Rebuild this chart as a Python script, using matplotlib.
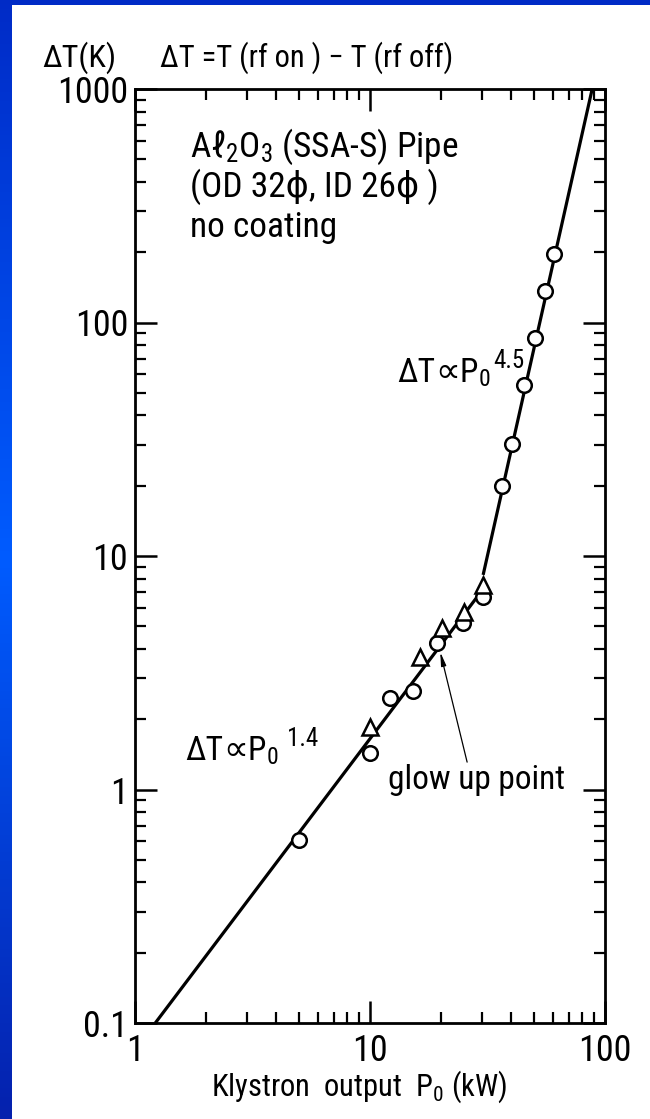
import numpy as np
import matplotlib
matplotlib.use("Agg")
import matplotlib.pyplot as plt
from matplotlib import font_manager
from matplotlib.patches import Rectangle
from matplotlib.ticker import LogLocator, NullFormatter, FixedLocator, FixedFormatter

# --- data -------------------------------------------------------------
# circles: measured temperature rise vs klystron output
circle_p = [5.0, 10.0, 12.2, 15.2, 19.3, 24.9, 30.3, 36.5, 40.2, 45.2, 50.4, 55.6, 60.7]
circle_t = [0.61, 1.43, 2.46, 2.64, 4.24, 5.16, 6.67, 19.9, 30.2, 54.0, 86.0, 136.0, 197.0]
# triangles: second run
tri_p = [10.0, 16.3, 20.3, 25.1, 30.3]
tri_t = [1.85, 3.69, 4.92, 5.75, 7.51]
# power-law guide lines
fit_low_p = [1.22, 29.4]
fit_low_t = [0.1, 6.94]
fit_high_p = [30.3, 88.2]
fit_high_t = [8.3, 1000.0]

y_ticks = [0.1, 1, 10, 100, 1000]
y_ticklabels = ["0.1", "1", "10", "100", "1000"]
x_ticks = [1, 10, 100]
x_ticklabels = ["1", "10", "100"]

# --- fonts: a narrow grotesque for everything -------------------------
names = {f.name for f in font_manager.fontManager.ttflist}
base = "Liberation Sans"
for cand in ["Nimbus Sans Narrow", "Liberation Sans Narrow", "Arial Narrow",
             "Roboto Condensed", "Archivo Narrow", "Barlow Semi Condensed"]:
    if cand in names:
        base = cand
        break
FAM = [base, "DejaVu Sans"]
plt.rcParams["font.family"] = FAM
plt.rcParams["mathtext.fontset"] = "custom"
plt.rcParams["mathtext.rm"] = base
plt.rcParams["mathtext.it"] = base
plt.rcParams["mathtext.bf"] = base

W, H = 650, 1119
fig = plt.figure(figsize=(W / 100, H / 100), dpi=100)

# blue frame with white sheet
bg = fig.add_axes([0, 0, 1, 1], zorder=-10)
bg.set_xlim(0, 1)
bg.set_ylim(0, 1)
bg.axis("off")
top = np.array([0.0, 0.17, 0.78])
mid = np.array([0.0, 0.36, 1.0])
bot = np.array([0.02, 0.13, 0.68])
yy = np.linspace(0, 1, 256)[:, None]
grad = np.where(yy < 0.5, top + (mid - top) * (yy / 0.5), mid + (bot - mid) * ((yy - 0.5) / 0.5))
bg.imshow(grad[:, None, :], aspect="auto", extent=[0, 1, 0, 1], origin="upper")
bg.add_patch(Rectangle((12 / W, 0), 1 - 12 / W, 1 - 5 / H, facecolor="white", edgecolor="none"))


def px(x, y):
    return x / W, 1 - y / H


# main axes
left, right, ytop, ybot = 135, 605, 89, 1023
ax = fig.add_axes([left / W, 1 - ybot / H, (right - left) / W, (ybot - ytop) / H])
ax.set_xscale("log")
ax.set_yscale("log")
ax.set_xlim(1, 100)
ax.set_ylim(0.1, 1000)
ax.patch.set_alpha(0)

ax.plot(fit_low_p, fit_low_t, color="black", lw=2.3, solid_capstyle="butt")
ax.plot(fit_high_p, fit_high_t, color="black", lw=2.3, solid_capstyle="butt")
ax.plot(circle_p, circle_t, "o", ms=10.5, mfc="white", mec="black", mew=1.8, ls="none")
ax.plot(tri_p, tri_t, "^", ms=11.5, mfc="white", mec="black", mew=1.8, ls="none")

for s in ax.spines.values():
    s.set_linewidth(2.0)

ax.xaxis.set_major_locator(FixedLocator(x_ticks))
ax.xaxis.set_major_formatter(FixedFormatter(x_ticklabels))
ax.yaxis.set_major_locator(FixedLocator(y_ticks))
ax.yaxis.set_major_formatter(FixedFormatter(y_ticklabels))
ax.xaxis.set_minor_locator(LogLocator(base=10, subs=np.arange(2, 10), numticks=20))
ax.yaxis.set_minor_locator(LogLocator(base=10, subs=np.arange(2, 10), numticks=20))
ax.xaxis.set_minor_formatter(NullFormatter())
ax.yaxis.set_minor_formatter(NullFormatter())
ax.tick_params(which="major", direction="in", length=16, width=1.8, top=True, right=True,
               labelsize=26, pad=5)
ax.tick_params(which="minor", direction="in", length=8, width=1.6, top=True, right=True)
ax.tick_params(axis="x", which="major", pad=7)

ax.set_xlabel("Klystron  output  P$_{\\mathrm{0}}$ (kW)", fontsize=22)
ax.xaxis.set_label_coords(0.477, -0.049)
ax.xaxis.label.set_va("top")

# headings above the frame
fig.text(*px(42, 67), "ΔT(K)", fontsize=23, ha="left", va="baseline")
fig.text(*px(160, 67), "ΔT =T (rf on ) − T (rf off)", fontsize=22, ha="left", va="baseline")

# annotations inside the frame
FS = 24
ax.text(1.71, 512, "A$\\ell_{\\mathrm{2}}$O$_{\\mathrm{3}}$ (SSA-S) Pipe", fontsize=25.5,
        ha="left", va="baseline")
ax.text(1.71, 344, "(OD 32ϕ, ID 26ϕ )", fontsize=25.5, ha="left", va="baseline")
ax.text(1.71, 232, "no coating", fontsize=25.5, ha="left", va="baseline")
ax.text(11.9, 1.0, "glow up point", fontsize=FS, ha="left", va="baseline")
ax.annotate("", xy=(19.9, 3.88), xytext=(25.9, 1.31),
            arrowprops=dict(arrowstyle="-|>,head_length=0.8,head_width=0.15",
                            color="black", lw=0.9, shrinkA=0, shrinkB=0))

fig.canvas.draw()
renderer = fig.canvas.get_renderer()
to_fig = fig.transFigure.inverted()


def chain(x, y, pieces):
    """Write text pieces one after another; each piece may be raised or spaced."""
    dx, dy = ax.transData.transform((x, y))
    for s, size, rise, gap, kw in pieces:
        fx, fy = to_fig.transform((dx + gap, dy + rise))
        t = fig.text(fx, fy, s, ha="left", va="baseline", fontsize=size, **kw)
        dx = t.get_window_extent(renderer).x1


PROP = {"family": ["DejaVu Sans"]}
chain(13.0, 55.6, [("ΔT", FS, 0, 0, {}), ("∝", 25, 0, 0, PROP), ("P", FS, 0, 0, {}),
                   ("0", 17, -4, 1, {}), ("4.5", 18, 14, 2, {})])
chain(1.63, 1.34, [("ΔT", FS, 0, 0, {}), ("∝", 25, 0, 0, PROP), ("P", FS, 0, 0, {}),
                   ("0", 17, -4, 1, {}), ("1.4", 18, 14, 8, {})])

fig.savefig("out.png", dpi=100)
